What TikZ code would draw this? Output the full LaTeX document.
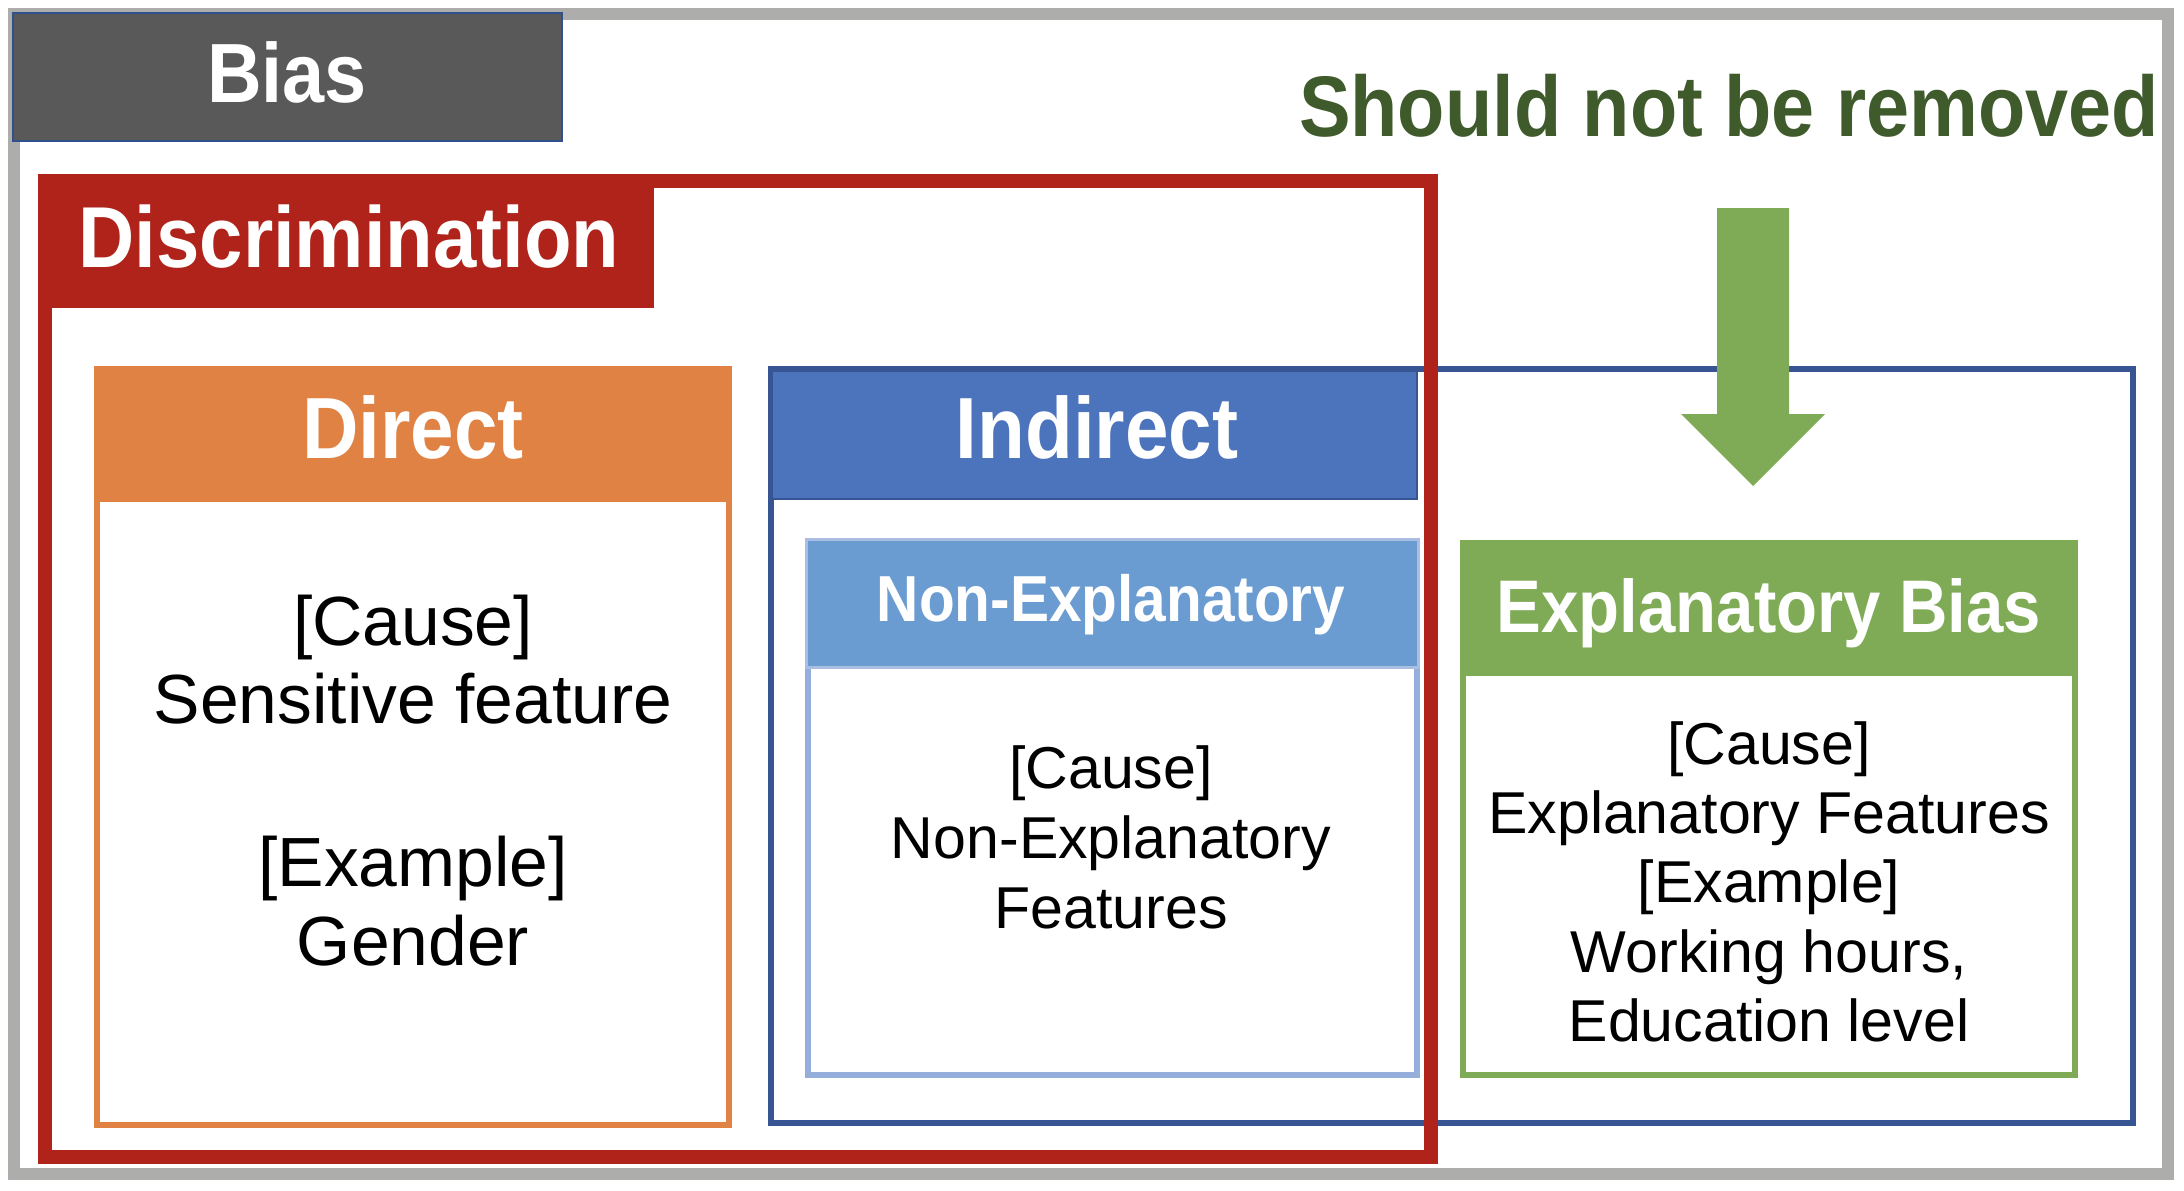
\documentclass[tikz,border=0pt]{standalone}
\usepackage{fontspec}
\setmainfont{Liberation Sans}
\newfontfamily\hfont[FakeStretch=0.9]{Liberation Sans}
\definecolor{framegray}{HTML}{ADADAB}
\definecolor{biasfill}{HTML}{595959}
\definecolor{biasedge}{HTML}{2F528F}
\definecolor{discred}{HTML}{B0231B}
\definecolor{dirorange}{HTML}{E08244}
\definecolor{inddark}{HTML}{365592}
\definecolor{indfill}{HTML}{4C74BD}
\definecolor{nonfill}{HTML}{6B9CD1}
\definecolor{nonedge}{HTML}{95AEDC}
\definecolor{expgreen}{HTML}{7FAB56}
\definecolor{txtgreen}{HTML}{3F5A2B}
\newcommand\hdf[1]{\hfont\bfseries\fontsize{#1}{#1}\selectfont}
\newcommand\bdf[1]{\fontsize{#1}{#1}\selectfont}
\begin{document}
\begin{tikzpicture}[x=0.01cm,y=-0.01cm,
  hd/.style={inner sep=0pt, anchor=base, text=white},
  bodyline/.style={inner sep=0pt, anchor=base, text=black},
  dirbody/.style={bodyline, font=\bdf{19.8pt}},
  smallbody/.style={bodyline, font=\bdf{16.8pt}}]
\useasboundingbox (0,0) rectangle (2184,1190);
% outer gray frame
\draw[framegray, line width=0.12cm] (14,14) rectangle (2168,1174);
% indirect (blue) frame
\draw[inddark, line width=0.06cm] (771,369) rectangle (2133,1123);
\draw[inddark, fill=indfill, line width=0.02cm] (772,371) rectangle (1417,499);
% non-explanatory box
\draw[nonedge, line width=0.06cm] (808,541) rectangle (1417,1075);
\draw[nonedge!80!white, fill=nonfill, line width=0.03cm] (806.5,539.5) rectangle (1418,667);
% explanatory bias box
\draw[expgreen, line width=0.06cm] (1463,543) rectangle (2075,1075);
\fill[expgreen] (1460,540) rectangle (2078,676);
% direct box
\draw[dirorange, line width=0.06cm] (97,369) rectangle (729,1125);
\fill[dirorange] (94,366) rectangle (732,502);
% discrimination frame
\draw[discred, line width=0.14cm] (45,181) rectangle (1431,1157);
\fill[discred] (38,174) rectangle (654,308);
% bias label box
\draw[biasedge, fill=biasfill, line width=0.02cm] (13,13) rectangle (562,141);
% green arrow
\fill[expgreen] (1717,208) -- (1789,208) -- (1789,414) -- (1825,414) -- (1753,486) -- (1681,414) -- (1717,414) -- cycle;
% headings
\node[hd, font=\hdf{23.9pt}] (biasT) at (287,102) {Bias};
\node[hd, font=\hdf{24.6pt}] (discT) at (349,267) {Discrimination};
\node[hd, font=\hdf{24.45pt}, text=txtgreen] (shouldT) at (1729,136) {Should not be removed};
\node[hd, font=\hdf{24.7pt}] (dirT) at (413,458) {Direct};
\node[hd, font=\hdf{24.7pt}] (indT) at (1097,458) {Indirect};
\node[hd, font=\hdf{18.5pt}] (nonT) at (1111,621) {Non-Explanatory};
\node[hd, font=\hdf{21.2pt}] (expT) at (1769,632) {Explanatory Bias};
% direct body
\node[dirbody] (dirA) at (413,645) {[Cause]};
\node[dirbody] (dirB) at (413,723) {Sensitive feature};
\node[dirbody] (dirC) at (413,886) {[Example]};
\node[dirbody] (dirD) at (413,965) {Gender};
% non-explanatory body
\node[smallbody] (nonA) at (1111,788) {[Cause]};
\node[smallbody] (nonB) at (1111,858) {Non-Explanatory};
\node[smallbody] (nonC) at (1111,928) {Features};
% explanatory body
\node[smallbody] (expA) at (1769,764) {[Cause]};
\node[smallbody] (expB) at (1769,833) {Explanatory Features};
\node[smallbody] (expC) at (1769,902) {[Example]};
\node[smallbody] (expD) at (1769,972) {Working hours,};
\node[smallbody] (expE) at (1769,1041) {Education level};
\end{tikzpicture}
\end{document}
